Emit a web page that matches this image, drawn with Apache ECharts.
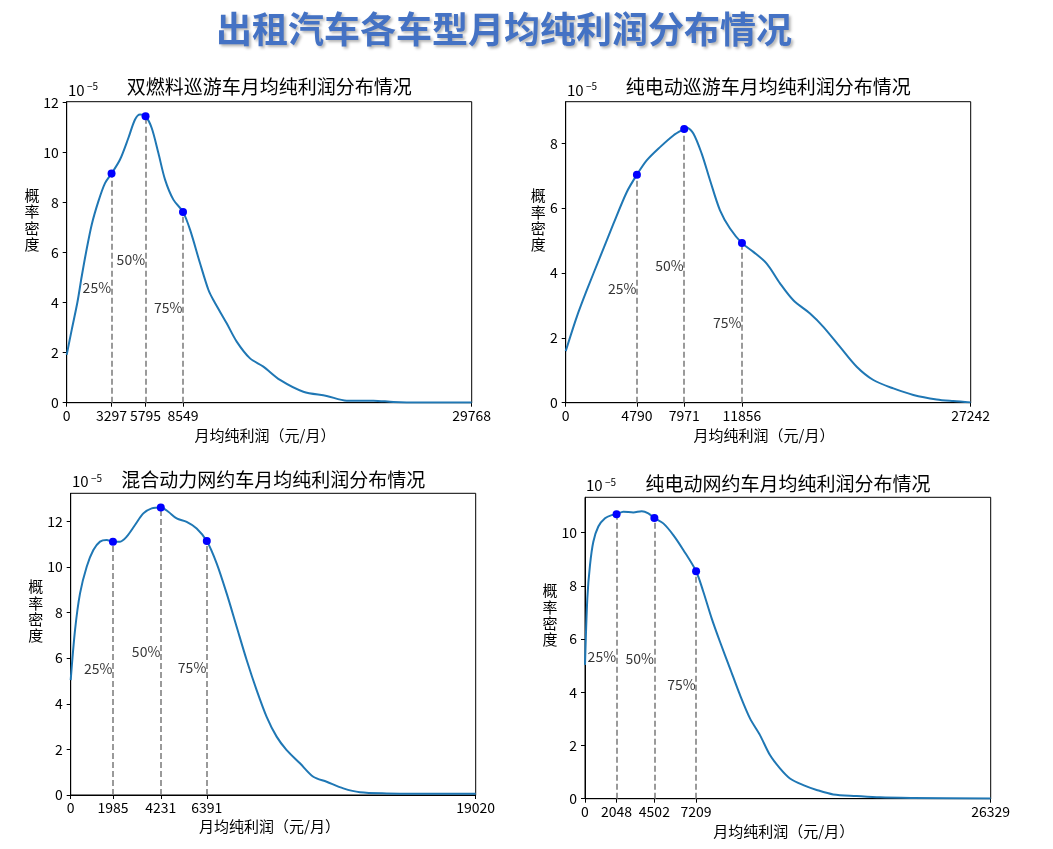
<!DOCTYPE html>
<html>
<head>
<meta charset="utf-8">
<script src="https://cdn.jsdelivr.net/npm/echarts@6/dist/echarts.min.js"></script>
<style>
html,body{margin:0;padding:0;background:#fff;}
#chart{width:1053px;height:849px;}
</style>
</head>
<body>
<div id="chart"></div>
<script>
// ---------- text ----------
const mainTitle = '出租汽车各车型月均纯利润分布情况';
const panelTitles = [
  '双燃料巡游车月均纯利润分布情况',
  '纯电动巡游车月均纯利润分布情况',
  '混合动力网约车月均纯利润分布情况',
  '纯电动网约车月均纯利润分布情况'
];
const xAxisLabel = '月均纯利润（元/月）';
const yAxisLabel = '概\n率\n密\n度';
const quantileLabels = ['25%', '50%', '75%'];
const offsetBase = '10';
const offsetExp = '−5';

// ---------- panel 1: 双燃料巡游车 ----------
const p1X = [0, 368, 784, 1103, 1421, 1838, 2328, 2818, 3297, 3920, 4533, 5023, 5390, 5795, 6248, 6738, 7228, 7840, 8549, 9065, 9800, 10413, 10780, 11760, 12495, 13475, 14455, 15680, 17395, 19110, 20580, 22540, 24010, 25970, 29768];
const p1Y = [1.91, 2.91, 4.00, 5.04, 6.00, 7.11, 8.04, 8.77, 9.15, 9.71, 10.57, 11.31, 11.51, 11.44, 10.97, 9.97, 8.91, 8.11, 7.62, 6.91, 5.57, 4.51, 4.10, 3.17, 2.44, 1.77, 1.44, 0.91, 0.44, 0.27, 0.08, 0.08, 0.03, 0.01, 0.01];
const p1QuantX = [3297, 5795, 8549];
const p1QuantY = [9.15, 11.44, 7.62];
const p1XTicks = [0, 3297, 5795, 8549, 29768];
const p1YTicks = [0, 2, 4, 6, 8, 10, 12];

// ---------- panel 2: 纯电动巡游车 ----------
const p2X = [0, 740, 1412, 2309, 3206, 4103, 4790, 5448, 6345, 7242, 7971, 8150, 8587, 9147, 9708, 10380, 11053, 11856, 12623, 13520, 14416, 15313, 16434, 17330, 18452, 19573, 20694, 22040, 23385, 24954, 26075, 27242];
const p2Y = [1.59, 2.64, 3.46, 4.49, 5.51, 6.49, 7.03, 7.47, 7.88, 8.24, 8.44, 8.48, 8.30, 7.68, 6.86, 5.93, 5.37, 4.92, 4.65, 4.29, 3.68, 3.16, 2.75, 2.34, 1.72, 1.11, 0.70, 0.44, 0.24, 0.10, 0.05, 0.01];
const p2QuantX = [4790, 7971, 11856];
const p2QuantY = [7.03, 8.44, 4.92];
const p2XTicks = [0, 4790, 7971, 11856, 27242];
const p2YTicks = [0, 2, 4, 6, 8];

// ---------- panel 3: 混合动力网约车 ----------
const p3X = [0, 203, 438, 751, 1064, 1377, 1690, 1985, 2316, 2629, 3020, 3411, 3803, 4231, 4585, 4977, 5446, 5916, 6391, 6854, 7324, 7793, 8263, 8732, 9202, 9671, 10141, 10767, 11393, 12019, 12802, 13584, 14836, 16401, 19020];
const p3Y = [5.04, 7.23, 8.84, 10.01, 10.74, 11.11, 11.18, 11.11, 11.11, 11.33, 11.84, 12.35, 12.57, 12.61, 12.42, 12.13, 11.98, 11.69, 11.14, 10.16, 8.84, 7.38, 5.92, 4.60, 3.43, 2.56, 1.97, 1.39, 0.80, 0.58, 0.29, 0.12, 0.07, 0.06, 0.06];
const p3QuantX = [1985, 4231, 6391];
const p3QuantY = [11.11, 12.61, 11.14];
const p3XTicks = [0, 1985, 4231, 6391, 19020];
const p3YTicks = [0, 2, 4, 6, 8, 10, 12];

// ---------- panel 4: 纯电动网约车 ----------
const p4X = [0, 151, 324, 541, 865, 1298, 1730, 2048, 2487, 3136, 3677, 4110, 4502, 5083, 5732, 6381, 7209, 7679, 8220, 8760, 9409, 10058, 10707, 11356, 12004, 12653, 13302, 14167, 15032, 16114, 17628, 19142, 21305, 26329];
const p4Y = [5.03, 7.53, 8.78, 9.66, 10.23, 10.54, 10.66, 10.69, 10.79, 10.76, 10.81, 10.73, 10.55, 10.35, 9.91, 9.35, 8.55, 7.78, 6.78, 5.90, 4.90, 3.90, 3.02, 2.39, 1.64, 1.14, 0.76, 0.51, 0.33, 0.16, 0.10, 0.05, 0.03, 0.01];
const p4QuantX = [2048, 4502, 7209];
const p4QuantY = [10.69, 10.55, 8.55];
const p4XTicks = [0, 2048, 4502, 7209, 26329];
const p4YTicks = [0, 2, 4, 6, 8, 10];

// ---------- build ----------
const FONT = '"Noto Sans CJK SC", "Noto Sans", sans-serif';
const panels = [
  {x: p1X, y: p1Y, qx: p1QuantX, qy: p1QuantY, xt: p1XTicks, yt: p1YTicks},
  {x: p2X, y: p2Y, qx: p2QuantX, qy: p2QuantY, xt: p2XTicks, yt: p2YTicks},
  {x: p3X, y: p3Y, qx: p3QuantX, qy: p3QuantY, xt: p3XTicks, yt: p3YTicks},
  {x: p4X, y: p4Y, qx: p4QuantX, qy: p4QuantY, xt: p4XTicks, yt: p4YTicks}
];
// layout (pixels) and axis limits
const layout = [
  {left: 66.7, top: 101.7, width: 405, height: 301, yMax: 12.02,
   title: [269.2, 86.7], off: [68, 90], ylab: [32, 219.7], xlab: [265, 435.5]},
  {left: 565.7, top: 101.7, width: 405, height: 301, yMax: 9.28,
   title: [768.2, 86.7], off: [567, 90], ylab: [538.3, 220], xlab: [764, 435.5]},
  {left: 70.7, top: 493.3, width: 405, height: 301.7, yMax: 13.23,
   title: [273.2, 479.3], off: [72, 481.5], ylab: [35.7, 611], xlab: [269.5, 826.7]},
  {left: 585, top: 497.3, width: 405.7, height: 301.4, yMax: 11.33,
   title: [787.9, 483.3], off: [586, 485.5], ylab: [550, 615], xlab: [783.8, 831.7]}
];

const grids = [], xAxes = [], yAxes = [], series = [], graphics = [];

function txt(x, y, text, size, opts) {
  opts = opts || {};
  return {
    type: 'text', x: x, y: y, silent: true, z: 100,
    style: Object.assign({
      text: text,
      fontSize: size,
      fontFamily: FONT,
      fontWeight: 'normal',
      fill: '#000',
      align: 'center', verticalAlign: 'middle',
      textAlign: 'center', textVerticalAlign: 'middle'
    }, opts)
  };
}

graphics.push(txt(504, 29, mainTitle, 36, {
  fontWeight: 'bold', fill: '#4472C4',
  textShadowColor: 'rgba(0,0,0,0.3)', textShadowBlur: 3,
  textShadowOffsetX: 2, textShadowOffsetY: 2
}));

panels.forEach((p, i) => {
  const L = layout[i];
  grids.push({left: L.left, top: L.top, width: L.width, height: L.height,
    show: true, borderColor: '#000', borderWidth: 1, containLabel: false});
  xAxes.push({
    type: 'value', gridIndex: i, min: 0, max: p.xt[p.xt.length - 1],
    splitLine: {show: false},
    axisLine: {show: true, onZero: false, lineStyle: {color: '#000', width: 1}},
    axisTick: {show: true, inside: false, length: 4, customValues: p.xt, lineStyle: {color: '#000'}},
    axisLabel: {show: true, customValues: p.xt, margin: 6, color: '#000',
      fontSize: 14, fontFamily: FONT, lineHeight: 14,
      formatter: v => String(Math.round(v))}
  });
  yAxes.push({
    type: 'value', gridIndex: i, min: 0, max: L.yMax,
    splitLine: {show: false},
    axisLine: {show: true, onZero: false, lineStyle: {color: '#000', width: 1}},
    axisTick: {show: true, inside: false, length: 4, customValues: p.yt, lineStyle: {color: '#000'}},
    axisLabel: {show: true, customValues: p.yt, margin: 8, color: '#000',
      fontSize: 14, fontFamily: FONT, formatter: v => String(Math.round(v))}
  });
  // KDE curve
  series.push({
    type: 'line', xAxisIndex: i, yAxisIndex: i,
    data: p.x.map((v, k) => [v, p.y[k]]),
    smooth: 0.3, showSymbol: false, symbol: 'none', z: 3,
    lineStyle: {color: '#1f77b4', width: 2}
  });
  // quantile markers + dashed drop lines
  series.push({
    type: 'scatter', xAxisIndex: i, yAxisIndex: i,
    data: p.qx.map((v, k) => [v, p.qy[k]]),
    symbol: 'circle', symbolSize: 8, z: 5,
    itemStyle: {color: '#0000ff', opacity: 1},
    markLine: {
      silent: true, symbol: ['none', 'none'], animation: false,
      label: {show: false},
      lineStyle: {type: [6, 3], color: '#7a7a7a', width: 1.5},
      data: p.qx.map((v, k) => [{coord: [v, 0]}, {coord: [v, p.qy[k]]}])
    }
  });
  // quantile text labels at half height of each marker
  series.push({
    type: 'scatter', xAxisIndex: i, yAxisIndex: i,
    data: p.qx.map((v, k) => ({value: [v, p.qy[k] / 2], name: quantileLabels[k]})),
    symbol: 'circle', symbolSize: 1, z: 6, silent: true,
    itemStyle: {color: 'rgba(0,0,0,0)'},
    label: {show: true, position: 'left', distance: 0, formatter: '{b}',
      color: '#000', fontSize: 14, fontFamily: FONT}
  });
  // texts
  graphics.push(txt(L.title[0], L.title[1], panelTitles[i], 19));
  graphics.push(txt(L.off[0], L.off[1], offsetBase, 15, {align: 'left', textAlign: 'left'}));
  graphics.push(txt(L.off[0] + 19, L.off[1] - 3.5, offsetExp, 10, {align: 'left', textAlign: 'left'}));
  graphics.push(txt(L.ylab[0], L.ylab[1], yAxisLabel, 15, {lineHeight: 16.3}));
  graphics.push(txt(L.xlab[0], L.xlab[1], xAxisLabel, 15));
});

const chart = echarts.init(document.getElementById('chart'), null, {renderer: 'canvas'});
chart.setOption({
  backgroundColor: '#fff',
  animation: false,
  grid: grids,
  xAxis: xAxes,
  yAxis: yAxes,
  series: series,
  graphic: graphics
});
</script>
</body>
</html>
